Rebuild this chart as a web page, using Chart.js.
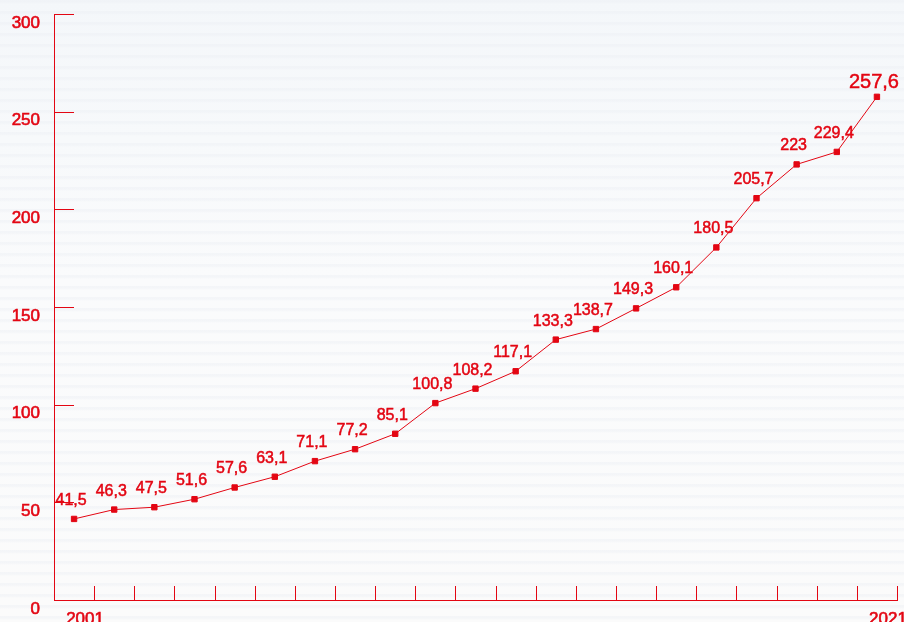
<!DOCTYPE html>
<html>
<head>
<meta charset="utf-8">
<script src="https://cdn.jsdelivr.net/npm/chart.js@4"></script>
<style>
  html, body { margin: 0; padding: 0; }
  body {
    width: 904px; height: 622px; overflow: hidden;
    background:
      repeating-linear-gradient(180deg, rgba(236,239,244,0.45) 0px, rgba(236,239,244,0.45) 2px, rgba(255,255,255,0) 4px, rgba(255,255,255,0) 11px),
      linear-gradient(180deg, #f4f7fa 0%, #fafbfc 45%, #fbfbfb 100%);
  }
  #wrap { position: relative; width: 904px; height: 622px; }
</style>
</head>
<body>
<div id="wrap"><canvas id="growthChart"></canvas></div>
<script>
const years = ['2001', '2002', '2003', '2004', '2005', '2006', '2007', '2008', '2009', '2010',
               '2011', '2012', '2013', '2014', '2015', '2016', '2017', '2018', '2019', '2020', '2021'];
const values = [41.5, 46.3, 47.5, 51.6, 57.6, 63.1, 71.1, 77.2, 85.1, 100.8,
                108.2, 117.1, 133.3, 138.7, 149.3, 160.1, 180.5, 205.7, 223, 229.4, 257.6];
const yTicks = [0, 50, 100, 150, 200, 250, 300];
const shownYears = ['2001', '2021'];

const RED = '#e30613';
const FONT = "'Liberation Sans', Arial, Helvetica, sans-serif";

// short inner tick marks on both axes
const innerTicks = {
    id: 'innerTicks',
    beforeDatasetsDraw(chart) {
        const { ctx, scales: { x, y } } = chart;
        ctx.save();
        ctx.strokeStyle = RED;
        ctx.lineWidth = 1;
        ctx.beginPath();
        yTicks.forEach(v => {
            if (v === 0) return;
            const py = Math.round(y.getPixelForValue(v)) + 0.5;
            ctx.moveTo(x.left, py);
            ctx.lineTo(x.left + 20, py);
        });
        for (let i = 0; i < years.length; i++) {
            let px = i < years.length - 1
                ? (x.getPixelForValue(i) + x.getPixelForValue(i + 1)) / 2
                : x.right;
            px = Math.round(px) + 0.5;
            ctx.moveTo(px, y.bottom);
            ctx.lineTo(px, y.bottom - 14);
        }
        ctx.stroke();
        ctx.restore();
    }
};

// value labels above each point, decimal comma
const valueLabels = {
    id: 'valueLabels',
    afterDatasetsDraw(chart) {
        const { ctx } = chart;
        const meta = chart.getDatasetMeta(0);
        ctx.save();
        ctx.fillStyle = RED;
        ctx.strokeStyle = RED;
        ctx.lineWidth = 0.5;
        ctx.textAlign = 'center';
        ctx.textBaseline = 'alphabetic';
        meta.data.forEach((pt, i) => {
            const last = i === values.length - 1;
            ctx.font = (last ? '20px ' : '16px ') + FONT;
            const text = String(values[i]).replace('.', ',');
            const tx = pt.x - 3, ty = pt.y - (last ? 9 : 14);
            ctx.fillText(text, tx, ty);
            ctx.strokeText(text, tx, ty);
        });
        ctx.restore();
    }
};

// keep label padding from shrinking the plot area
const noPad = (scale) => {
    scale.paddingTop = 0;
    scale.paddingBottom = 0;
    scale.paddingLeft = 0;
    scale.paddingRight = 0;
};

const ctx = document.getElementById('growthChart').getContext('2d');
new Chart(ctx, {
    type: 'line',
    data: {
        labels: years,
        datasets: [{
            data: values,
            borderColor: RED,
            borderWidth: 1,
            backgroundColor: RED,
            pointStyle: 'rect',
            pointRadius: 3.8,
            pointBorderWidth: 1,
            pointBorderColor: RED,
            pointBackgroundColor: RED,
            tension: 0
        }]
    },
    options: {
        responsive: true,
        maintainAspectRatio: false,
        animation: false,
        layout: { padding: { top: 14, right: 7, left: 0, bottom: 0 } },
        plugins: {
            legend: { display: false },
            tooltip: { enabled: false }
        },
        scales: {
            x: {
                type: 'category',
                offset: true,
                grid: { display: false, drawTicks: false },
                border: { display: true, color: RED, width: 1 },
                ticks: {
                    autoSkip: false,
                    maxRotation: 0,
                    padding: 9,
                    labelOffset: 11,
                    color: RED,
                    textStrokeColor: RED,
                    textStrokeWidth: 0.6,
                    font: { family: FONT, size: 17 },
                    callback: function (val, idx) {
                        const lab = this.getLabelForValue(val);
                        return shownYears.includes(lab) ? lab : '';
                    }
                },
                afterFit: (scale) => { scale.height = 22; noPad(scale); }
            },
            y: {
                min: 0,
                max: 300,
                grid: { display: false, drawTicks: false },
                border: { display: true, color: RED, width: 1 },
                afterBuildTicks: (scale) => { scale.ticks = yTicks.map(v => ({ value: v })); },
                ticks: {
                    padding: 14,
                    labelOffset: 9,
                    color: RED,
                    textStrokeColor: RED,
                    textStrokeWidth: 0.6,
                    font: { family: FONT, size: 17 }
                },
                afterFit: (scale) => { scale.width = 54; noPad(scale); }
            }
        }
    },
    plugins: [innerTicks, valueLabels]
});
</script>
</body>
</html>
